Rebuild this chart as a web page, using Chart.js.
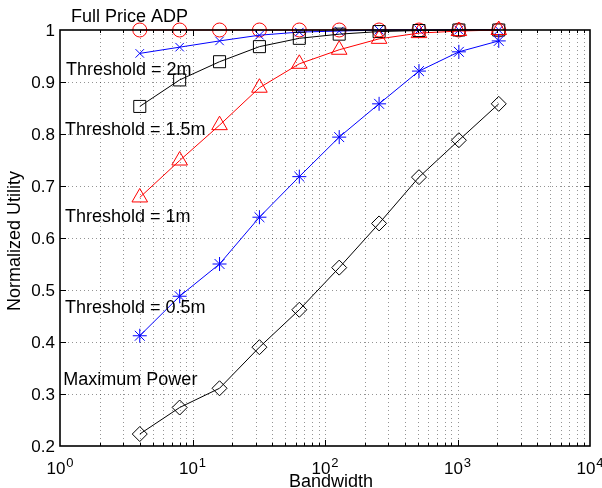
<!DOCTYPE html>
<html>
<head>
<meta charset="utf-8">
<script src="https://cdn.jsdelivr.net/npm/chart.js@4"></script>
<style>
  html, body { margin:0; padding:0; background:#fff; }
  #wrap { width:602px; height:488px; }
</style>
</head>
<body>
<div id="wrap"><canvas id="chart" width="602" height="488"></canvas></div>
<script>
// bandwidth values (x) and normalized utility per curve
const bandwidth = [4, 8, 16, 32, 64, 128, 256, 512, 1024, 2048];
const fullPrice = [1, 1, 1, 1, 1, 1, 1, 1, 1, 1];
const thr2m     = [0.955, 0.967, 0.979, 0.990, 0.996, 0.998, 1, 1, 1, 1];
const thr15m    = [0.853, 0.904, 0.939, 0.968, 0.984, 0.992, 0.997, 0.999, 1, 1];
const thr1m     = [0.678, 0.749, 0.817, 0.889, 0.935, 0.962, 0.983, 0.994, 0.998, 1];
const thr05m    = [0.412, 0.488, 0.550, 0.640, 0.718, 0.794, 0.858, 0.921, 0.958, 0.979];
const maxPower  = [0.223, 0.274, 0.311, 0.390, 0.462, 0.543, 0.628, 0.717, 0.788, 0.858];

const yTicks = [0.2, 0.3, 0.4, 0.5, 0.6, 0.7, 0.8, 0.9, 1];
const xExponents = [0, 1, 2, 3, 4];

// curve labels, placed in data coordinates
const notes = [
  { text: 'Full Price ADP',   x: 1.21, y: 1.016 },
  { text: 'Threshold = 2m',   x: 1.11, y: 0.913 },
  { text: 'Threshold = 1.5m', x: 1.09, y: 0.799 },
  { text: 'Threshold = 1m',   x: 1.09, y: 0.631 },
  { text: 'Threshold = 0.5m', x: 1.09, y: 0.455 },
  { text: 'Maximum Power',    x: 1.06, y: 0.318 }
];

const FONT = '"Liberation Sans", Arial, Helvetica, sans-serif';
const pts = ys => bandwidth.map((x, i) => ({ x, y: ys[i] }));

const ds = (label, ys, color, style, r, order) => ({
  label, data: pts(ys), borderColor: color, backgroundColor: 'rgba(0,0,0,0)',
  borderWidth: 1, pointStyle: style, pointRadius: r, pointBorderWidth: 1,
  pointBorderColor: color, pointBackgroundColor: 'rgba(0,0,0,0)', order, clip: false, tension: 0
});

const matlabAxes = {
  id: 'matlabAxes',
  beforeDatasetsDraw(chart) {
    const { ctx, chartArea: a, scales: { x, y } } = chart;
    ctx.save();
    ctx.strokeStyle = 'rgba(0,0,0,0.42)';
    ctx.lineWidth = 1;
    ctx.setLineDash([1, 3]);
    ctx.beginPath();
    for (let e = 0; e < 4; e++) for (let m = 1; m <= 9; m++) {
      const v = m * Math.pow(10, e);
      if (v === 1) continue;
      const px = Math.round(x.getPixelForValue(v)) + 0.5;
      ctx.moveTo(px, a.top); ctx.lineTo(px, a.bottom);
    }
    yTicks.slice(1, -1).forEach(v => {
      const py = Math.round(y.getPixelForValue(v)) + 0.5;
      ctx.moveTo(a.left, py); ctx.lineTo(a.right, py);
    });
    ctx.stroke();
    ctx.restore();
  },
  afterDatasetsDraw(chart) {
    const { ctx, chartArea: a, scales: { x, y } } = chart;
    ctx.save();
    ctx.strokeStyle = '#000';
    ctx.lineWidth = 1;
    ctx.beginPath();
    for (let e = 0; e < 4; e++) for (let m = 1; m <= 9; m++) {
      const v = m * Math.pow(10, e);
      if (v === 1) continue;
      const len = m === 1 ? 6 : 3;
      const px = Math.round(x.getPixelForValue(v)) + 0.5;
      ctx.moveTo(px, a.bottom); ctx.lineTo(px, a.bottom - len);
      ctx.moveTo(px, a.top); ctx.lineTo(px, a.top + len);
    }
    yTicks.slice(1, -1).forEach(v => {
      const py = Math.round(y.getPixelForValue(v)) + 0.5;
      ctx.moveTo(a.left, py); ctx.lineTo(a.left + 6, py);
      ctx.moveTo(a.right, py); ctx.lineTo(a.right - 6, py);
    });
    ctx.stroke();
    ctx.lineWidth = 1.6;
    ctx.strokeRect(a.left, a.top, a.right - a.left, a.bottom - a.top);
    ctx.restore();
  },
  afterDraw(chart) {
    const { ctx, chartArea: a, scales: { x, y } } = chart;
    ctx.save();
    ctx.fillStyle = '#000';
    // y tick labels
    ctx.font = '17px ' + FONT;
    ctx.textAlign = 'right';
    ctx.textBaseline = 'middle';
    yTicks.forEach(v => ctx.fillText(String(v), a.left - 5, y.getPixelForValue(v) + 1));
    // x tick labels 10^n
    ctx.textBaseline = 'alphabetic';
    ctx.textAlign = 'left';
    xExponents.forEach(n => {
      ctx.font = '17px ' + FONT;
      const w1 = ctx.measureText('10').width;
      ctx.font = '13px ' + FONT;
      const w2 = ctx.measureText(String(n)).width;
      const left = x.getPixelForValue(Math.pow(10, n)) - (w1 + w2 + 1) / 2;
      ctx.font = '17px ' + FONT;
      ctx.fillText('10', left, a.bottom + 28);
      ctx.font = '13px ' + FONT;
      ctx.fillText(String(n), left + w1 + 1, a.bottom + 21);
    });
    // axis titles
    ctx.font = '18px ' + FONT;
    ctx.textAlign = 'center';
    ctx.fillText('Bandwidth', (a.left + a.right) / 2 + 6, a.bottom + 41);
    ctx.save();
    ctx.translate(20, (a.top + a.bottom) / 2 + 3);
    ctx.rotate(-Math.PI / 2);
    ctx.fillText('Normalized Utility', 0, 0);
    ctx.restore();
    // curve labels
    ctx.textAlign = 'left';
    notes.forEach(n => ctx.fillText(n.text, x.getPixelForValue(n.x), y.getPixelForValue(n.y)));
    ctx.restore();
  }
};

new Chart(document.getElementById('chart'), {
  type: 'line',
  data: {
    datasets: [
      ds('Full Price ADP',   fullPrice, '#ff0000', 'circle',   7,   5),
      ds('Threshold = 2m',   thr2m,     '#0000ff', 'crossRot', 6,   4),
      ds('Threshold = 1.5m', thr15m,    '#000000', 'rect',     8.5, 3),
      ds('Threshold = 1m',   thr1m,     '#ff0000', 'triangle', 9,   2),
      ds('Threshold = 0.5m', thr05m,    '#0000ff', 'star',     7,   1),
      ds('Maximum Power',    maxPower,  '#000000', 'rectRot',  7.5, 0)
    ]
  },
  options: {
    responsive: false,
    animation: false,
    layout: { padding: { top: 30, right: 12, left: 0, bottom: 0 } },
    plugins: { legend: { display: false }, tooltip: { enabled: false } },
    scales: {
      x: {
        type: 'logarithmic', min: 1, max: 10000,
        grid: { display: false }, border: { display: false },
        ticks: { display: false },
        afterFit: s => { s.height = 42; }
      },
      y: {
        type: 'linear', min: 0.2, max: 1,
        grid: { display: false }, border: { display: false },
        ticks: { display: false, stepSize: 0.1 },
        afterFit: s => { s.width = 60; }
      }
    }
  },
  plugins: [matlabAxes]
});
</script>
</body>
</html>
